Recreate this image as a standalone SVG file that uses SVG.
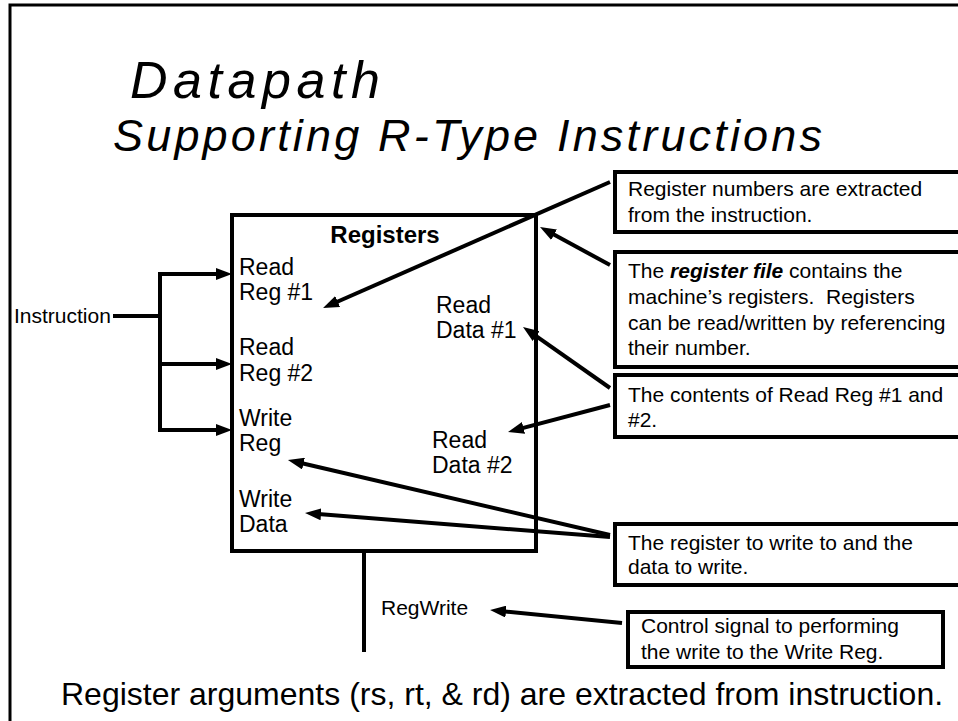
<svg xmlns="http://www.w3.org/2000/svg" width="958" height="721" viewBox="0 0 958 721">
<defs>
<marker id="ah" markerUnits="userSpaceOnUse" markerWidth="16" markerHeight="12" refX="6" refY="6" orient="auto">
<path d="M0,0 L16,6 L0,12 z" fill="#000"/>
</marker>
<style>
text{font-family:"Liberation Sans",Arial,sans-serif;fill:#000}
.title{font-style:italic}
.lbl{font-size:23px}
.sm{font-size:21px}
.box{fill:#fff;stroke:#000;stroke-width:4}
.ln{stroke:#000;stroke-width:4;fill:none}
.arr{stroke:#000;stroke-width:4;fill:none;marker-end:url(#ah)}
</style>
</defs>
<rect width="958" height="721" fill="#fff"/>
<g id="frame">
<path d="M10,721 V5 H958" fill="none" stroke="#000" stroke-width="3"/>
</g>
<g id="title">
<text class="title" x="130" y="98" font-size="52" textLength="250" lengthAdjust="spacing">Datapath</text>
<text class="title" x="113" y="151" font-size="45" textLength="709" lengthAdjust="spacing">Supporting R-Type Instructions</text>
</g>
<g id="registers">
<rect class="box" x="232" y="215" width="304" height="336"/>
<text x="385" y="243" font-size="24" font-weight="bold" text-anchor="middle">Registers</text>
<text class="lbl" x="239" y="275">Read</text>
<text class="lbl" x="239" y="300">Reg #1</text>
<text class="lbl" x="239" y="355">Read</text>
<text class="lbl" x="239" y="381">Reg #2</text>
<text class="lbl" x="239" y="426">Write</text>
<text class="lbl" x="239" y="451">Reg</text>
<text class="lbl" x="239" y="507">Write</text>
<text class="lbl" x="239" y="532">Data</text>
<text class="lbl" x="436" y="313">Read</text>
<text class="lbl" x="436" y="338">Data #1</text>
<text class="lbl" x="432" y="448">Read</text>
<text class="lbl" x="432" y="473">Data #2</text>
</g>
<g id="instruction">
<text class="sm" x="14" y="323">Instruction</text>
</g>
<g id="regwrite">
<text class="sm" x="381" y="615">RegWrite</text>
</g>
<g id="note1">
<rect class="box" x="615" y="172" width="360" height="60"/>
<text class="sm" x="628" y="196">Register numbers are extracted</text>
<text class="sm" x="628" y="222">from the instruction.</text>
</g>
<g id="note2">
<rect class="box" x="615" y="252" width="360" height="115"/>
<text class="sm" x="628" y="278">The <tspan font-weight="bold" font-style="italic">register file</tspan> contains the</text>
<text class="sm" x="628" y="304" style="white-space:pre">machine’s registers.  Registers</text>
<text class="sm" x="628" y="330">can be read/written by referencing</text>
<text class="sm" x="628" y="355">their number.</text>
</g>
<g id="note3">
<rect class="box" x="615" y="375" width="360" height="62"/>
<text class="sm" x="628" y="402">The contents of Read Reg #1 and</text>
<text class="sm" x="628" y="427">#2.</text>
</g>
<g id="note4">
<rect class="box" x="615" y="524" width="360" height="61"/>
<text class="sm" x="628" y="550">The register to write to and the</text>
<text class="sm" x="628" y="574">data to write.</text>
</g>
<g id="note5">
<rect class="box" x="628" y="612" width="315" height="55"/>
<text class="sm" x="641" y="633">Control signal to performing</text>
<text class="sm" x="641" y="659">the write to the Write Reg.</text>
</g>
<g id="caption">
<text x="61" y="705" font-size="32">Register arguments (rs, rt, &amp; rd) are extracted from instruction.</text>
</g>
<g id="connectors">
<path class="ln" d="M113,316 H160"/>
<path class="ln" d="M222,274 H160 V430 H222"/>
<line class="arr" x1="160" y1="274" x2="222" y2="274"/>
<line class="arr" x1="160" y1="364" x2="222" y2="364"/>
<line class="arr" x1="160" y1="430" x2="222" y2="430"/>
<line class="ln" x1="364" y1="549" x2="364" y2="652"/>
<line class="arr" x1="610" y1="182" x2="332.2" y2="304"/>
<line class="arr" x1="610" y1="265" x2="548.8" y2="231.8"/>
<line class="arr" x1="610" y1="388" x2="531.2" y2="332.7"/>
<line class="arr" x1="610" y1="405" x2="517.7" y2="429.4"/>
<line class="arr" x1="610" y1="535" x2="297.7" y2="462.3"/>
<line class="arr" x1="610" y1="537" x2="315" y2="513.8"/>
<line class="arr" x1="622" y1="623" x2="500" y2="611"/>
</g>
</svg>
